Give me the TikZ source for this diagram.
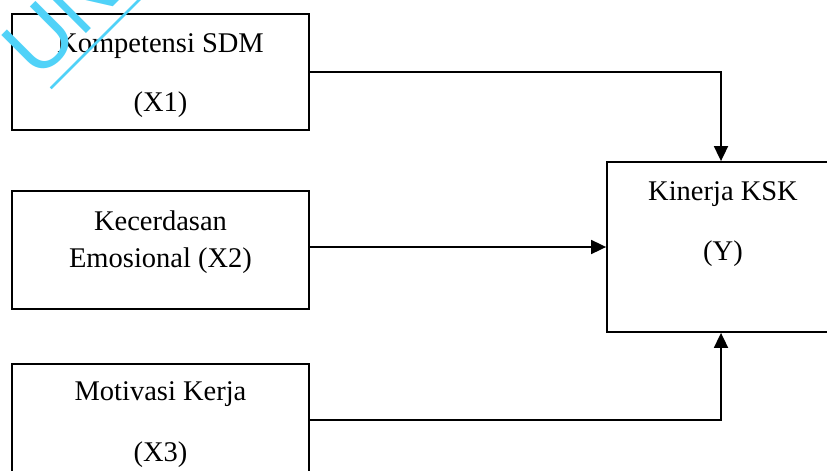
\documentclass[tikz,border=0pt]{standalone}
\usepackage{fontspec}
\setmainfont{Liberation Serif}
\newfontfamily\wmfont{Liberation Sans}
\usetikzlibrary{arrows.meta}
\definecolor{wmcyan}{RGB}{80,210,248}
\begin{document}
\begin{tikzpicture}[x=1pt,y=1pt,
  box/.style={draw=black, line width=1.8pt, minimum width=297pt, inner sep=0pt},
  lbl/.style={font=\fontsize{28.5}{37}\selectfont, anchor=base, inner sep=0pt},
  conn/.style={draw=black, line width=1.8pt, -{Triangle[length=15pt,width=14pt]}}]
\useasboundingbox (0,0) rectangle (827,-471);
\fill[white] (0,0) rectangle (827,-471);
\begin{scope}
\clip (0,0) rectangle (827,-471);
% variable boxes
\node[box, minimum height=116pt] (x1) at (160.5,-72) {};
\node[box, minimum height=118pt] (x2) at (160.5,-250) {};
\node[box, minimum height=112pt] (x3) at (160.5,-420) {};
\node[box, minimum width=228pt, minimum height=170pt] (yk) at (721,-247) {};
% box texts
\node[lbl] (x1a) at (160.5,-52) {Kompetensi SDM};
\node[lbl] (x1b) at (160.5,-111) {(X1)};
\node[lbl] (x2a) at (160.5,-230) {Kecerdasan};
\node[lbl] (x2b) at (160.5,-267) {Emosional (X2)};
\node[lbl] (x3a) at (160.5,-400) {Motivasi Kerja};
\node[lbl] (x3b) at (160.5,-461) {(X3)};
\node[lbl] (ya) at (723,-200) {Kinerja KSK};
\node[lbl] (yb) at (723,-260) {(Y)};
% connectors
\draw[conn] (x1.east) -| (yk.north);
\draw[conn] (x2.east |- yk.west) -- (yk.west);
\draw[conn] (x3.east) -| (yk.south);
% stamp in the upper left corner
\begin{scope}[shift={(38.4,-81.6)}, rotate=45, transform shape]
\node[anchor=base west, inner sep=0pt, text=wmcyan, font=\wmfont\fontsize{85}{85}\selectfont] (wm) at (0,0) {UNIVERSITAS};
\draw[wmcyan, line width=2.6pt] (4,-13.4) -- (400,-13.4);
\end{scope}
\end{scope}
\end{tikzpicture}
\end{document}
